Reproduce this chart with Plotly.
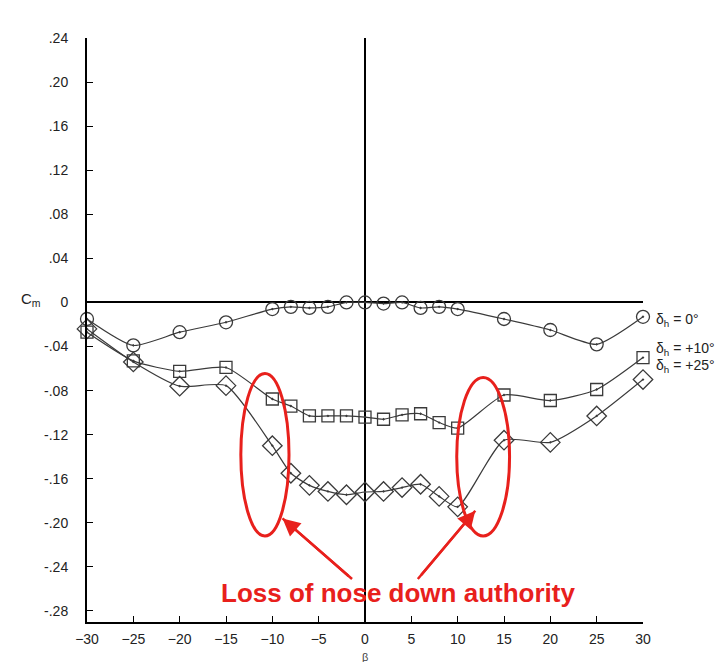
import plotly.graph_objects as go

# ---- data ----
beta_0 = [-30, -25, -20, -15, -10, -8, -6, -4, -2, 0, 2, 4, 6, 8, 10, 15, 20, 25, 30]
cm_0 = [-0.015, -0.039, -0.027, -0.018, -0.006, -0.004, -0.005, -0.004, 0.0, 0.0,
        -0.001, 0.0, -0.005, -0.004, -0.006, -0.015, -0.025, -0.038, -0.013]

beta_10 = [-30, -25, -20, -15, -10, -8, -6, -4, -2, 0, 2, 4, 6, 8, 10, 15, 20, 25, 30]
cm_10 = [-0.027, -0.053, -0.0625, -0.059, -0.0876, -0.094, -0.103, -0.103, -0.103, -0.104,
         -0.106, -0.102, -0.101, -0.109, -0.114, -0.084, -0.089, -0.079, -0.050]

beta_25 = [-30, -25, -20, -15, -10, -8, -6, -4, -2, 0, 2, 4, 6, 8, 10, 15, 20, 25, 30]
cm_25 = [-0.024, -0.054, -0.076, -0.0755, -0.130, -0.155, -0.166, -0.1715, -0.1745, -0.172,
         -0.1715, -0.168, -0.165, -0.176, -0.1855, -0.125, -0.127, -0.103, -0.070]

x_ticks = [-30, -25, -20, -15, -10, -5, 0, 5, 10, 15, 20, 25, 30]
y_ticks = [0.24, 0.20, 0.16, 0.12, 0.08, 0.04, 0, -0.04, -0.08, -0.12, -0.16, -0.20, -0.24, -0.28]
y_ticktext = [".24", ".20", ".16", ".12", ".08", ".04", "0", "-.04", "-.08", "-.12",
              "-.16", "-.20", "-.24", "-.28"]

legend_labels = ["δ<sub>h</sub> = 0°", "δ<sub>h</sub> = +10°", "δ<sub>h</sub> = +25°"]
legend_y = [-0.016, -0.042, -0.058]

note_text = "Loss of nose down authority"

# ellipses (beta range, cm range)
ellipses = [(-13.4, -8.2, -0.0645, -0.212), (9.9, 15.6, -0.068, -0.212)]
# arrows: (tail beta, tail cm, head beta, head cm)
arrows = [(-1.4, -0.251, -8.9, -0.196), (5.7, -0.251, 11.9, -0.189)]

line_col = "#3a3a3a"
red = "#e8201c"
fig = go.Figure()
series = [
    (beta_0, cm_0, "circle-open-dot", 13),
    (beta_10, cm_10, "square-open-dot", 12),
    (beta_25, cm_25, "diamond-open-dot", 15),
]
for bx, cy, sym, sz in series:
    fig.add_trace(go.Scatter(
        x=bx, y=cy, mode="lines+markers",
        line=dict(color=line_col, width=1.2, shape="spline", smoothing=0.6),
        marker=dict(symbol=sym, size=sz, color=line_col, line=dict(width=1.3, color=line_col)),
        showlegend=False, cliponaxis=False,
    ))

shapes = []
for x0, x1, y0, y1 in ellipses:
    shapes.append(dict(type="circle", xref="x", yref="y", x0=x0, x1=x1, y0=y0, y1=y1,
                       line=dict(color=red, width=3)))
for tx, ty, hx, hy in arrows:
    shapes.append(dict(type="line", xref="x", yref="y", x0=tx, y0=ty, x1=hx, y1=hy,
                       line=dict(color=red, width=2.5)))

annotations = []
for lab, ly in zip(legend_labels, legend_y):
    annotations.append(dict(text=lab, xref="paper", yref="y", x=1.02, y=ly,
                            xanchor="left", yanchor="middle", showarrow=False,
                            font=dict(size=14, color="#222")))
annotations.append(dict(text=note_text, xref="x", yref="y", x=3.6, y=-0.264,
                        xanchor="center", yanchor="middle", showarrow=False,
                        font=dict(size=26, color=red, family="Liberation Sans, Arial",
                                  weight="bold")))
for tx, ty, hx, hy in arrows:
    annotations.append(dict(text=" ", x=hx, y=hy, xref="x", yref="y",
                            ax=tx, ay=ty, axref="x", ayref="y",
                            showarrow=True, arrowhead=2, arrowsize=1.4, arrowwidth=2.5,
                            arrowcolor=red))
annotations.append(dict(text="C<sub>m</sub>", xref="paper", yref="y", x=-0.1, y=0.003,
                        xanchor="center", yanchor="middle", showarrow=False,
                        font=dict(size=15, color="#222")))
annotations.append(dict(text="β", xref="x", yref="paper", x=0, y=-0.06,
                        xanchor="center", yanchor="middle", showarrow=False,
                        font=dict(size=11, color="#444")))

fig.update_layout(
    width=727, height=662,
    margin=dict(l=87, r=84, t=38, b=40),
    paper_bgcolor="white", plot_bgcolor="white",
    font=dict(family="Liberation Sans, Arial", size=13, color="#222"),
    shapes=shapes, annotations=annotations,
    xaxis=dict(range=[-30, 30], tickvals=x_ticks, ticks="inside", ticklen=6,
               tickcolor="black", showline=True, linecolor="black", linewidth=2,
               showgrid=False, zeroline=True, zerolinecolor="black", zerolinewidth=1.5,
               ticklabelstandoff=3, tickfont=dict(size=14, color="#222")),
    yaxis=dict(range=[-0.29, 0.24], tickvals=y_ticks, ticktext=y_ticktext,
               ticks="inside", ticklen=6, tickcolor="black", showline=True,
               linecolor="black", linewidth=2, showgrid=False, zeroline=True,
               zerolinecolor="black", zerolinewidth=1.5, ticklabelstandoff=14,
               tickfont=dict(size=14, color="#222")),
)

fig.write_html("out.html")
